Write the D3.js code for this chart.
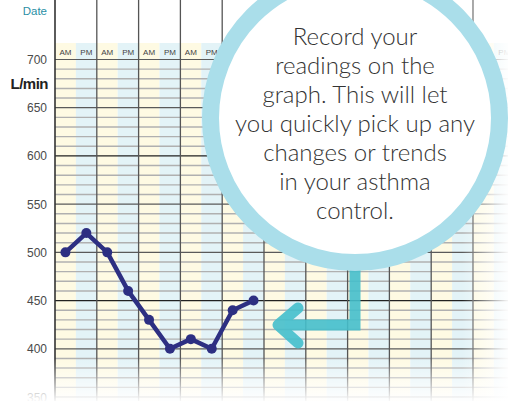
<!DOCTYPE html>
<html lang="en">
<head>
    <meta charset="UTF-8">
    <title>Peak flow diary</title>
    <style>
        body {
            margin: 0;
            padding: 0;
            background: #ffffff;
        }
        svg {
            display: block;
            font-family: 'Liberation Sans', Arial, sans-serif;
        }
        .tick-label {
            font-size: 12px;
            fill: #4a4a4a;
        }
        .session {
            font-size: 8px;
            fill: #444;
        }
        .note {
            font-family: 'Lato', sans-serif;
            font-weight: 300;
            font-size: 24px;
            fill: #333;
        }
    </style>
</head>
<body>
    <script src="https://d3js.org/d3.v7.min.js"></script>
    <script>
        // data
        const dayCount = 11;
        const sessions = ["AM", "PM"];
        const yTicks = [350, 400, 450, 500, 550, 600, 650, 700];
        const readings = [500, 520, 500, 460, 430, 400, 410, 400, 440, 450];
        const noteLines = [
            "Record your",
            "readings on the",
            "graph. This will let",
            "you quickly pick up any",
            "changes or trends",
            "in your asthma",
            "control."
        ];

        const width = 508;
        const height = 401;
        const left = 55;
        const dayWidth = 41.8;
        const headerTop = 43;
        const bubble = { cx: 355, cy: 118, r: 144.5, ring: 17 };

        const svg = d3.select("body")
            .append("svg")
            .attr("width", width)
            .attr("height", height);

        const slots = [];
        for (let d = 0; d < dayCount; d++) {
            sessions.forEach(s => slots.push({ day: d, session: s, id: d + "-" + s }));
        }

        const x = d3.scaleBand()
            .domain(slots.map(d => d.id))
            .range([left, left + dayWidth * dayCount])
            .padding(0);

        const y = d3.scaleLinear()
            .domain([350, 700])
            .range([397, 59.5]);

        // column shading
        svg.append("g")
            .selectAll("rect")
            .data(slots)
            .enter()
            .append("rect")
            .attr("x", d => x(d.id))
            .attr("y", headerTop)
            .attr("width", x.bandwidth())
            .attr("height", height - headerTop)
            .attr("fill", d => d.session === "AM" ? "#fefae3" : "#e3f3f7");

        // AM / PM labels (the ones hidden under the bubble are left out)
        const outerR = bubble.r + bubble.ring / 2;
        const visibleSlots = slots.filter(d => {
            const cx = x(d.id) + x.bandwidth() / 2;
            return Math.hypot(cx - bubble.cx, 52 - bubble.cy) > outerR - 4;
        });
        svg.append("g")
            .selectAll("text")
            .data(visibleSlots)
            .enter()
            .append("text")
            .attr("class", "session")
            .attr("x", d => x(d.id) + x.bandwidth() / 2)
            .attr("y", 55)
            .attr("text-anchor", "middle")
            .text(d => d.session);

        // horizontal grid every 10 L/min
        const gridValues = d3.range(350, 701, 10);
        svg.append("g")
            .selectAll("line")
            .data(gridValues)
            .enter()
            .append("line")
            .attr("x1", left)
            .attr("x2", width)
            .attr("y1", d => y(d))
            .attr("y2", d => y(d))
            .attr("stroke", d => (d === 600 || d === 450) ? "#222" : (d % 50 === 0 ? "#5a5a5a" : "#b0b0b0"))
            .attr("stroke-width", d => d % 50 === 0 ? 1.2 : 1.4);

        // day dividers
        svg.append("g")
            .selectAll("line")
            .data(d3.range(dayCount + 1))
            .enter()
            .append("line")
            .attr("x1", d => left + d * dayWidth)
            .attr("x2", d => left + d * dayWidth)
            .attr("y1", 0)
            .attr("y2", height)
            .attr("stroke", d => d === 0 ? "#333" : "#555")
            .attr("stroke-width", d => d === 0 ? 1.6 : 1.3);

        // y axis labels
        svg.append("g")
            .selectAll("text")
            .data(yTicks)
            .enter()
            .append("text")
            .attr("class", "tick-label")
            .attr("x", 47)
            .attr("y", d => y(d) + 4.5)
            .attr("text-anchor", "end")
            .text(d => d);

        svg.append("text")
            .attr("x", 48)
            .attr("y", 89)
            .attr("text-anchor", "end")
            .attr("font-size", "15px")
            .attr("font-weight", "bold")
            .attr("letter-spacing", "-0.5")
            .attr("fill", "#222")
            .text("L/min");

        svg.append("text")
            .attr("x", 47)
            .attr("y", 15)
            .attr("text-anchor", "end")
            .attr("font-size", "11.5px")
            .attr("fill", "#2a8fa5")
            .text("Date");

        // readings line
        const points = readings.map((v, i) => ({ id: slots[i].id, value: v }));
        const line = d3.line()
            .x(d => x(d.id) + x.bandwidth() / 2)
            .y(d => y(d.value));

        svg.append("path")
            .datum(points)
            .attr("d", line)
            .attr("fill", "none")
            .attr("stroke", "#2d2f82")
            .attr("stroke-width", 4.5)
            .attr("stroke-linejoin", "round");

        svg.append("g")
            .selectAll("circle")
            .data(points)
            .enter()
            .append("circle")
            .attr("cx", d => x(d.id) + x.bandwidth() / 2)
            .attr("cy", d => y(d.value))
            .attr("r", 5)
            .attr("fill", "#2d2f82");

        // fades at bottom and right
        const defs = svg.append("defs");
        const fadeDown = defs.append("linearGradient")
            .attr("id", "fadeDown")
            .attr("x1", 0).attr("y1", 0).attr("x2", 0).attr("y2", 1);
        fadeDown.append("stop").attr("offset", "0%").attr("stop-color", "#fff").attr("stop-opacity", 0);
        fadeDown.append("stop").attr("offset", "100%").attr("stop-color", "#fff").attr("stop-opacity", 0.95);
        const fadeRight = defs.append("linearGradient")
            .attr("id", "fadeRight")
            .attr("x1", 0).attr("y1", 0).attr("x2", 1).attr("y2", 0);
        fadeRight.append("stop").attr("offset", "0%").attr("stop-color", "#fff").attr("stop-opacity", 0);
        fadeRight.append("stop").attr("offset", "100%").attr("stop-color", "#fff").attr("stop-opacity", 0.95);

        svg.append("rect")
            .attr("x", 0).attr("y", 358)
            .attr("width", width).attr("height", height - 358)
            .attr("fill", "url(#fadeDown)");
        svg.append("rect")
            .attr("x", 462).attr("y", 0)
            .attr("width", width - 462).attr("height", height)
            .attr("fill", "url(#fadeRight)");

        // arrow pointing back at the readings
        const arrow = svg.append("g")
            .attr("fill", "none")
            .attr("stroke", "#45bfcc")
            .attr("stroke-width", 11)
            .attr("stroke-linecap", "round")
            .attr("stroke-linejoin", "miter")
            .attr("opacity", 0.9);
        arrow.append("path")
            .attr("d", "M355,262 L355,325 L278,325")
            .attr("stroke-linecap", "butt");
        arrow.append("path")
            .attr("d", "M298,308 L278,325 L298,343")
            .attr("stroke-linejoin", "round");

        // call-out bubble
        svg.append("circle")
            .attr("cx", bubble.cx)
            .attr("cy", bubble.cy)
            .attr("r", bubble.r)
            .attr("fill", "#fff")
            .attr("stroke", "#aadeea")
            .attr("stroke-width", bubble.ring);

        svg.append("g")
            .selectAll("text")
            .data(noteLines)
            .enter()
            .append("text")
            .attr("class", "note")
            .attr("x", bubble.cx)
            .attr("y", (d, i) => 45 + i * 29)
            .attr("text-anchor", "middle")
            .text(d => d);
    </script>
</body>
</html>
